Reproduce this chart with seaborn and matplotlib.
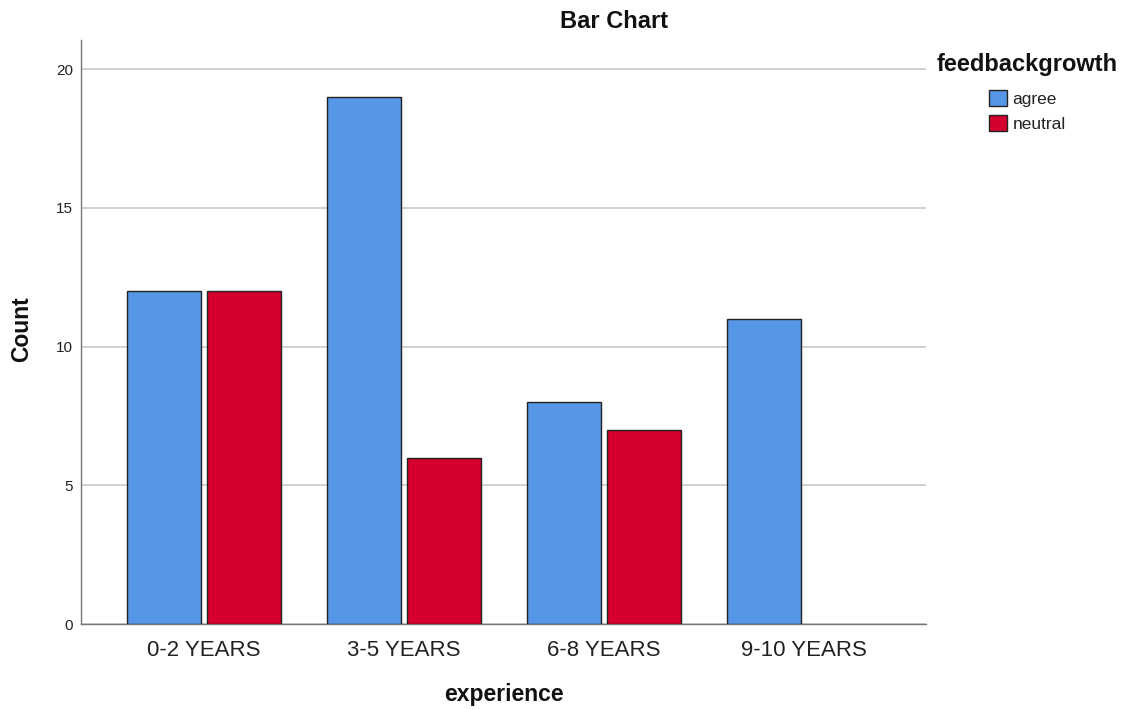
import matplotlib
matplotlib.use("Agg")
import matplotlib.pyplot as plt
import seaborn as sns
import pandas as pd
from matplotlib.patches import Patch

categories = ["0-2 YEARS", "3-5 YEARS", "6-8 YEARS", "9-10 YEARS"]
hue_levels = ["agree", "neutral"]
agree_counts = [12, 19, 8, 11]
neutral_counts = [12, 6, 7, 0]
y_ticks = [0, 5, 10, 15, 20]
colors = {"agree": "#5596E6", "neutral": "#D5002E"}

rows = []
for c, a, n in zip(categories, agree_counts, neutral_counts):
    rows.append({"experience": c, "feedbackgrowth": "agree", "Count": a})
    rows.append({"experience": c, "feedbackgrowth": "neutral", "Count": n})
df = pd.DataFrame(rows)

sns.set_theme(style="white")
plt.rcParams["font.family"] = ["Liberation Sans", "DejaVu Sans"]

W, H = 1124, 709
fig = plt.figure(figsize=(W / 100, H / 100), dpi=100)
ax = fig.add_axes([81 / W, 1 - 624 / H, 845 / W, 584 / H])

sns.barplot(data=df, x="experience", y="Count", hue="feedbackgrowth",
            order=categories, hue_order=hue_levels, palette=colors,
            saturation=1, width=0.805, gap=0.08, edgecolor="#222222",
            linewidth=1.0, errorbar=None, ax=ax, legend=False, zorder=3)

# a zero count draws no bar
for p in ax.patches:
    if p.get_height() == 0:
        p.set_visible(False)

ax.set_xlim(-0.615, 3.61)
ax.set_ylim(0, 21.05)
ax.set_yticks(y_ticks)
ax.set_yticklabels([str(t) for t in y_ticks], fontsize=11, color="#222222")
ax.tick_params(axis="y", length=0, pad=5.8)
ax.tick_params(axis="x", length=0, pad=11.5)
for lab in ax.get_xticklabels():
    lab.set_fontsize(16)
    lab.set_color("#222222")

ax.yaxis.grid(True, color="#c8c8c8", linewidth=1.2, zorder=0)
ax.set_axisbelow(True)
for s in ["top", "right"]:
    ax.spines[s].set_visible(False)
for s in ["left", "bottom"]:
    ax.spines[s].set_color("#777777")
    ax.spines[s].set_linewidth(1.0)

ax.set_xlabel("experience", fontsize=16.5, fontweight="bold", color="#111111")
ax.xaxis.label.set_verticalalignment("center")
ax.xaxis.set_label_coords(0.5, (624 - 695) / 584)
ax.set_ylabel("Count", fontsize=16.5, fontweight="bold", color="#111111")
ax.yaxis.label.set_verticalalignment("center")
ax.yaxis.set_label_coords((22 - 81) / 845, 0.505)

fig.text(614 / W, 1 - 21.5 / H, "Bar Chart", fontsize=17, fontweight="bold",
         ha="center", va="center", color="#111111")

fig.text(937 / W, 1 - 64.5 / H, "feedbackgrowth", fontsize=17, fontweight="bold",
         ha="left", va="center", color="#111111")
handles = [Patch(facecolor=colors[h], edgecolor="#222222", linewidth=1.0, label=h)
           for h in hue_levels]
leg = fig.legend(handles=handles, loc="upper left",
                 bbox_to_anchor=(989 / W, 1 - 90 / H), frameon=False,
                 fontsize=12.5, borderpad=0, borderaxespad=0,
                 handlelength=1.05, handleheight=1.05, handletextpad=0.3,
                 labelspacing=0.46)
for t in leg.get_texts():
    t.set_color("#222222")

fig.savefig("out.png", dpi=100)
